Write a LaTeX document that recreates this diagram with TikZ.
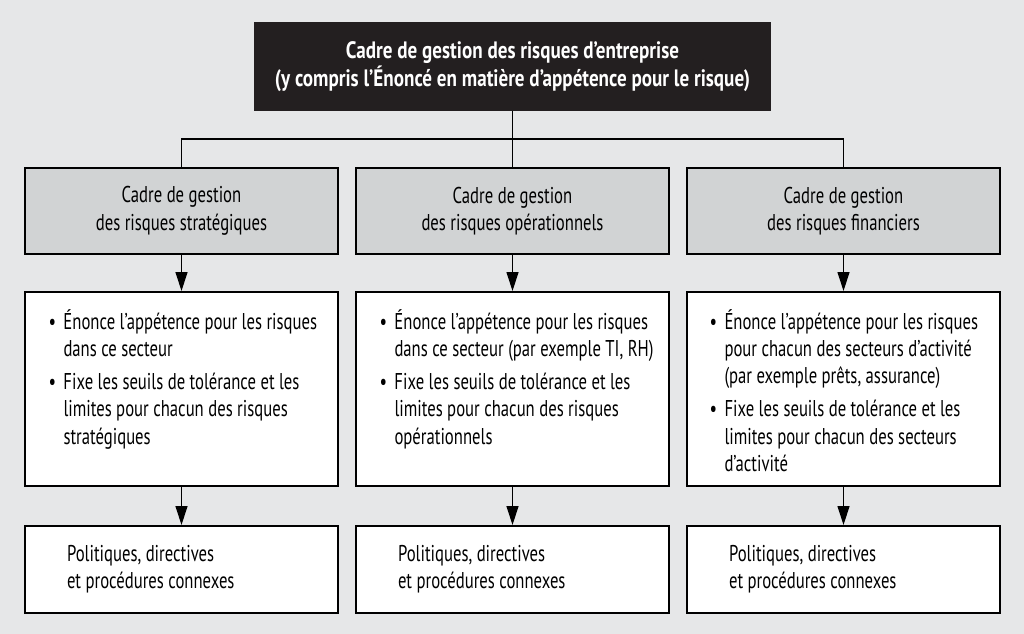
\documentclass[tikz,border=0pt]{standalone}
\usepackage{fontspec}
\setmainfont[FakeStretch=0.73]{PT Sans}
\newfontfamily\titrefont[FakeStretch=0.805]{PT Sans Bold}
\usetikzlibrary{calc,arrows.meta}
\definecolor{fond}{HTML}{E6E7E8}
\definecolor{grisclair}{HTML}{D1D3D4}
\definecolor{noirtitre}{HTML}{231F20}
\newcommand{\taille}{\fontsize{13}{15.5}\selectfont}
\tikzstyle{noir} = [rectangle, draw=noirtitre, fill=noirtitre, text=white, minimum height=1.76cm, minimum width=10.32cm, align=center, font=\titrefont\fontsize{13.5}{16}\selectfont]
\tikzstyle{gris} = [rectangle, draw=black, line width=1pt, fill=grisclair, minimum height=1.72cm, minimum width=6.26cm, align=center, font=\taille]
\tikzstyle{blanc} = [rectangle, draw=black, line width=1pt, fill=white, minimum height=3.88cm, minimum width=6.26cm]
\tikzstyle{pied} = [rectangle, draw=black, line width=1pt, fill=white, minimum height=1.74cm, minimum width=6.26cm, inner xsep=0.84cm, text width=4.58cm, align=flush left, font=\taille]
\tikzstyle{puces} = [anchor=north west, inner sep=0pt, font=\taille]
\tikzstyle{fleche} = [line width=0.7pt, -{Triangle[length=0.38cm,width=0.24cm]}]

\begin{document}
\begin{tikzpicture}[x=0.02cm, y=-0.02cm]

        \useasboundingbox[fill=fond] (0,0) rectangle (1024,634);

        \node (T) [noir, anchor=north] at (512.5,22) {Cadre de gestion des risques d’entreprise\\
            (y compris l’Énoncé en matière d’appétence pour le risque)};

        \node (G1) [gris, anchor=north] at (181.5,167) {Cadre de gestion\\des risques stratégiques};
        \node (G2) [gris, anchor=north] at (512.5,167) {Cadre de gestion\\des risques opérationnels};
        \node (G3) [gris, anchor=north] at (843.5,167) {Cadre de gestion\\des risques financiers};

        \node (B1) [blanc, anchor=north] at (181.5,291) {};
        \node (B2) [blanc, anchor=north] at (512.5,291) {};
        \node (B3) [blanc, anchor=north] at (843.5,291) {};

        \node (t1) [puces] at ($(B1.north west) + (24,18)$) {\begin{tabular}{@{}p{0.3cm}@{}l@{}}
            \textbullet & Énonce l’appétence pour les risques \\
            & dans ce secteur \\[3.4pt]
            \textbullet & Fixe les seuils de tolérance et les \\
            & limites pour chacun des risques \\
            & stratégiques
        \end{tabular}};
        \node (t2) [puces] at ($(B2.north west) + (24,18)$) {\begin{tabular}{@{}p{0.3cm}@{}l@{}}
            \textbullet & Énonce l’appétence pour les risques \\
            & dans ce secteur (par exemple TI, RH) \\[3.4pt]
            \textbullet & Fixe les seuils de tolérance et les \\
            & limites pour chacun des risques \\
            & opérationnels
        \end{tabular}};
        \node (t3) [puces] at ($(B3.north west) + (23,18)$) {\begin{tabular}{@{}p{0.3cm}@{}l@{}}
            \textbullet & Énonce l’appétence pour les risques \\
            & pour chacun des secteurs d’activité \\
            & (par exemple prêts, assurance) \\[3.4pt]
            \textbullet & Fixe les seuils de tolérance et les \\
            & limites pour chacun des secteurs \\
            & d’activité
        \end{tabular}};

        \node (P1) [pied, anchor=north] at (181.5,525) {Politiques, directives\\et procédures connexes};
        \node (P2) [pied, anchor=north] at (512.5,525) {Politiques, directives\\et procédures connexes};
        \node (P3) [pied, anchor=north] at (843.5,525) {Politiques, directives\\et procédures connexes};

        \coordinate (bus) at (0,139);
        \draw[line width=0.7pt] (T.south) -- (G2.north);
        \draw[line width=0.7pt] (G1.north) |- (T.south |- bus) -| (G3.north);

        \draw[fleche] (G1) -- (B1);
        \draw[fleche] (G2) -- (B2);
        \draw[fleche] (G3) -- (B3);
        \draw[fleche] (B1) -- (P1);
        \draw[fleche] (B2) -- (P2);
        \draw[fleche] (B3) -- (P3);

    \end{tikzpicture}
\end{document}
